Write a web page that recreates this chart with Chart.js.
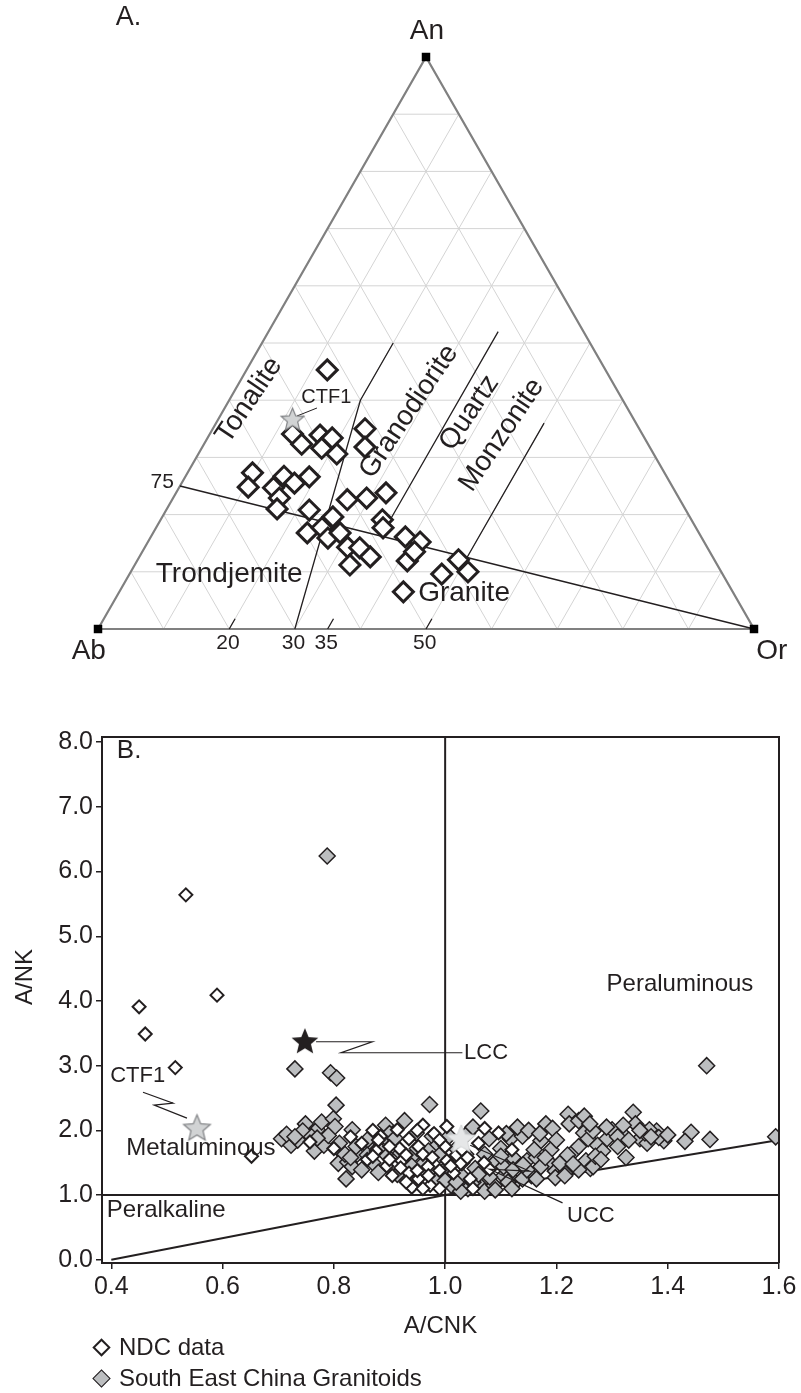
<!DOCTYPE html>
<html>
<head>
<meta charset="utf-8">
<script src="https://cdn.jsdelivr.net/npm/chart.js@4.4.1/dist/chart.umd.min.js"></script>
<style>
  html, body { margin: 0; padding: 0; background: #fff; }
  #wrap { position: relative; width: 801px; height: 1393px; overflow: hidden;
          font-family: 'Liberation Sans', Arial, sans-serif; color: #231f20; }
  #ternary { position: absolute; left: 0; top: 0; }
  #anplot { position: absolute; left: 0; top: 700px; }
  .leg { position: absolute; left: 95px; height: 28px; line-height: 28px; font-size: 24px;
         display: flex; align-items: center; white-space: nowrap; }
  .leg i { display: inline-block; width: 13px; height: 13px; box-sizing: border-box;
           transform: rotate(45deg); margin-right: 11px; }
</style>
</head>
<body>
<div id="wrap">
  <canvas id="ternary" width="801" height="700"></canvas>
  <canvas id="anplot" width="801" height="645"></canvas>
  <div class="leg" style="top:1333px"><i style="background:#fff;border:2.5px solid #231f20"></i>NDC data</div>
  <div class="leg" style="top:1364px"><i style="background:#bcbec0;border:1.5px solid #231f20"></i>South East China Granitoids</div>
</div>
<script>
'use strict';

// ---------- A. An-Ab-Or ternary, NDC samples (percent, Ab = 100 - An - Or) ----------
let ndcAn = [45.3, 34.1, 32.3, 33.9, 32.5, 31.6, 33.4, 30.6, 35.0, 31.8,
             27.3, 24.8, 24.7, 26.7, 25.5, 26.6, 22.9, 21.0, 20.8, 16.8,
             17.7, 22.6, 22.9, 23.8, 19.6, 15.9, 16.8, 14.3, 14.2, 12.6,
             11.2, 19.1, 17.7, 16.1, 15.2, 11.9, 13.5, 9.6, 12.1, 10.0, 6.5];
let ndcOr = [12.3, 12.6, 14.9, 16.9, 18.6, 18.3, 19.0, 21.1, 23.2, 24.8,
             9.9, 10.5, 14.4, 15.0, 17.2, 18.9, 16.2, 16.8, 21.8, 23.5,
             25.3, 26.7, 29.5, 32.0, 26.0, 27.1, 28.5, 30.9, 32.8, 35.2,
             32.8, 33.8, 34.6, 38.8, 41.5, 41.2, 41.5, 47.6, 48.9, 51.4, 43.3];
let ctf1An = [36.7];
let ctf1Or = [11.3];
let baseTicks = [20, 30, 35, 50];

// field boundaries, [An, Or] pairs
let line75 = [[25, 0], [0, 100]];
let lineTonGrd = [[0, 30], [40, 20], [50, 20]];
let lineGrdQm = [[16.25, 35], [52, 35]];
let lineQmMz = [[12.5, 50], [36, 50]];

// ---------- B. A/CNK vs A/NK ----------
let ndcAcnk = [0.534, 0.590, 0.450, 0.461, 0.515, 0.652, 0.914, 0.884, 0.876, 0.918,
               0.935, 0.952, 0.922, 0.960, 0.935, 0.952, 0.969, 0.977, 0.973, 0.990,
               1.003, 1.003, 1.015, 1.028, 1.045, 1.071, 1.096, 0.757, 0.860, 0.895,
               0.905, 0.940, 0.980, 1.020, 1.060, 1.080, 0.850, 0.870, 0.960, 1.120,
               1.000, 0.930, 0.990, 1.050, 0.800, 0.830, 0.870, 0.900, 0.920, 0.950,
               0.970, 0.900, 0.950, 0.990, 1.010, 1.030, 0.880, 0.930, 0.960, 1.040,
               1.070];
let ndcAnk = [5.64, 4.09, 3.91, 3.49, 2.97, 1.60, 2.01, 1.91, 1.68, 1.72,
              1.87, 1.75, 1.53, 1.63, 1.34, 1.25, 1.44, 1.58, 1.15, 1.10,
              2.06, 1.53, 1.34, 1.49, 1.25, 2.03, 1.96, 1.82, 1.55, 1.45,
              1.30, 1.12, 1.95, 1.62, 1.80, 1.40, 1.80, 2.00, 2.08, 1.70,
              1.75, 1.62, 1.38, 1.10, 1.72, 1.90, 1.60, 1.55, 1.42, 1.38,
              1.30, 1.75, 2.00, 1.85, 1.45, 1.70, 1.85, 1.20, 1.10, 1.58,
              1.50];

let secgAcnk = [0.788, 0.730, 0.794, 0.805, 1.470, 0.804, 0.972, 1.064, 1.221, 1.338,
                1.594, 1.476, 1.442, 1.431, 1.325, 0.822, 0.833,
                0.706, 0.723, 0.715, 0.749, 0.744, 0.770, 0.765, 0.778, 0.782, 0.799,
                0.802, 0.812, 0.808, 0.825, 0.833, 0.850, 0.859, 0.820, 0.842, 0.735,
                0.790, 0.760,
                0.893, 0.927, 0.901, 0.893, 0.939, 0.914, 0.948, 0.977, 0.986, 0.986,
                1.007, 1.011, 1.020, 1.037, 1.041, 1.054, 1.062, 1.079, 1.071, 1.088,
                1.100, 1.105, 1.117, 1.122, 1.126, 1.139, 1.147, 1.155, 1.164, 1.172,
                1.181, 1.193, 1.189, 1.198, 1.215, 1.223, 1.240, 1.232, 1.249, 1.257,
                1.253, 1.261, 1.266, 1.274, 1.283, 1.291, 1.300, 1.317, 1.342, 1.350,
                1.363, 1.380, 1.393, 1.359, 1.367, 1.384,
                1.071, 1.088, 1.113, 1.139, 1.164, 1.198, 1.215, 1.240, 1.266, 1.028,
                1.105, 1.122, 1.147, 1.172, 1.206, 1.050, 1.080, 1.120, 1.030, 1.000,
                0.960, 0.950, 0.900, 1.040, 1.130, 1.250, 1.310, 1.190, 1.270, 1.110,
                0.870, 0.880, 0.860, 0.840,
                0.860, 0.880, 0.910, 0.940, 0.970, 1.000, 1.020, 1.060, 1.090, 1.100,
                1.140, 1.160, 1.180, 1.200, 1.220, 1.230, 1.240, 1.280, 1.290, 1.310,
                1.330, 1.350, 1.370, 1.400, 1.150, 1.170, 1.050, 1.030, 0.990, 0.920,
                0.830, 0.810, 0.770, 0.730, 1.260, 1.320];
let secgAnk = [6.24, 2.95, 2.89, 2.81, 3.00, 2.39, 2.40, 2.30, 2.25, 2.28,
               1.90, 1.86, 1.97, 1.83, 1.58, 1.25, 2.01,
               1.87, 1.77, 1.94, 2.10, 1.99, 2.01, 1.68, 2.13, 1.77, 2.18,
               2.06, 1.68, 1.49, 1.51, 1.44, 1.39, 1.77, 1.63, 1.63, 1.85,
               1.92, 1.90,
               2.08, 2.15, 1.82, 1.63, 1.58, 1.32, 1.96, 1.91, 1.77, 1.25,
               1.91, 1.15, 1.72, 1.63, 1.10, 1.41, 1.15, 1.87, 1.63, 1.49,
               1.72, 1.30, 1.87, 1.58, 1.20, 1.91, 1.53, 1.30, 1.58, 1.84,
               2.10, 2.03, 1.49, 1.37, 1.34, 2.10, 2.15, 1.68, 1.96, 1.87,
               1.53, 1.41, 1.99, 1.77, 1.68, 1.87, 2.01, 1.96, 2.10, 1.87,
               1.80, 1.99, 1.84, 1.96, 2.01, 1.89,
               1.06, 1.15, 1.20, 1.25, 1.25, 1.27, 1.30, 1.39, 1.44, 1.06,
               1.44, 1.39, 1.39, 1.44, 1.49, 1.20, 1.28, 1.10, 1.30, 1.40,
               1.48, 1.72, 1.95, 1.95, 2.05, 2.22, 1.90, 1.70, 1.60, 1.95,
               1.50, 1.35, 1.85, 1.75,
               1.62, 1.72, 1.88, 1.45, 1.68, 1.22, 1.20, 1.32, 1.08, 1.60,
               1.47, 1.70, 1.58, 1.85, 1.62, 1.48, 1.75, 1.55, 2.05, 1.75,
               1.85, 2.00, 1.90, 1.93, 2.00, 1.95, 2.05, 1.50, 1.62, 1.65,
               1.58, 1.80, 1.88, 1.90, 2.10, 2.08];

let lccPt = [0.748, 3.38];   // lower continental crust
let uccPt = [1.029, 1.87];   // upper continental crust
let ctf1Pt = [0.554, 2.04];

let xMin = 0.3833, xMax = 1.6, yMin = -0.05, yMax = 8.08;
let boundVert = [[1.0, yMin], [1.0, yMax]];
let boundHorz = [[xMin, 1.0], [xMax, 1.0]];
let boundDiag = [[0.4, 0], [1.0, 1.0], [1.6, 1.85]];

let lccLeader = [[0.768, 3.37], [0.869, 3.37], [0.813, 3.20], [1.031, 3.20]];
let ctf1Leader = [[0.457, 2.59], [0.511, 2.42], [0.477, 2.39], [0.536, 2.19]];
let uccLeader = [[1.045, 1.77], [1.152, 1.37], [1.080, 1.40], [1.211, 0.88]];

const INK = '#231f20';
const FONT = "'Liberation Sans', Arial, sans-serif";
Chart.defaults.font.family = FONT;
Chart.defaults.color = INK;

const H = Math.sqrt(3) / 2;
function tern(an, or) {
  return { x: or + an / 2, y: an * H };
}
function pts(pairs) {
  return pairs.map(p => ({ x: p[0], y: p[1] }));
}

function starImage(r, fill, stroke, lw) {
  let c = document.createElement('canvas');
  let s = Math.ceil(2 * r + 2 * lw + 2);
  c.width = s; c.height = s;
  let g = c.getContext('2d');
  g.beginPath();
  for (let i = 0; i < 10; i++) {
    let rr = i % 2 ? r * 0.45 : r;
    let a = -Math.PI / 2 + i * Math.PI / 5;
    g.lineTo(s / 2 + rr * Math.cos(a), s / 2 + 1 + rr * Math.sin(a));
  }
  g.closePath();
  g.fillStyle = fill;
  g.fill();
  if (lw) { g.lineWidth = lw; g.strokeStyle = stroke; g.stroke(); }
  return c;
}

// text drawn at data coordinates of a chart
function notesPlugin(items) {
  return {
    id: 'notes',
    afterDatasetsDraw(chart) {
      let ctx = chart.ctx, xs = chart.scales.x, ys = chart.scales.y;
      items.forEach(n => {
        ctx.save();
        ctx.fillStyle = INK;
        ctx.font = n.size + 'px ' + FONT;
        ctx.textAlign = n.align || 'center';
        ctx.textBaseline = n.base || 'middle';
        ctx.translate(xs.getPixelForValue(n.x), ys.getPixelForValue(n.y));
        if (n.rot) ctx.rotate(n.rot * Math.PI / 180);
        ctx.fillText(n.text, 0, 0);
        ctx.restore();
      });
    }
  };
}

function lineSet(data, color, width, order) {
  return { data: data, showLine: true, borderColor: color, borderWidth: width,
           pointRadius: 0, spanGaps: false, clip: false, order: order };
}

// ---------- chart A ----------
function renderTernary() {
  let grid = [];
  for (let k = 10; k < 100; k += 10) {
    grid.push(tern(k, 0), tern(k, 100 - k), { x: null, y: null });
    grid.push(tern(0, k), tern(100 - k, k), { x: null, y: null });
    grid.push(tern(0, 100 - k), tern(100 - k, 0), { x: null, y: null });
  }
  let corners = [tern(0, 0), tern(100, 0), tern(0, 100)];
  let edges = [tern(0, 0), tern(100, 0), tern(0, 100), tern(0, 0)];
  let bounds = [];
  [line75, lineTonGrd, lineGrdQm, lineQmMz].forEach(l => {
    l.forEach(p => bounds.push(tern(p[0], p[1])));
    bounds.push({ x: null, y: null });
  });
  baseTicks.filter(t => t !== 30).forEach(t => {
    bounds.push(tern(0, t), tern(1.8, t), { x: null, y: null });
  });
  let leader = [{ x: 30.34, y: 32.25 }, { x: 33.38, y: 33.46 }];

  let labels = [
    { text: 'A.', x: 2.7, y: 94.6, size: 27, align: 'left', base: 'top' },
    { text: 'An', x: 50.15, y: 90.5, size: 28 },
    { text: 'Ab', x: -1.4, y: -3.3, size: 28 },
    { text: 'Or', x: 102.7, y: -3.3, size: 28 },
    { text: '75', x: 9.8, y: 22.3, size: 21 },
    { text: 'CTF1', x: 34.8, y: 35.0, size: 20 },
    { text: 'Trondjemite', x: 20.0, y: 8.3, size: 28 },
    { text: 'Granite', x: 55.8, y: 5.45, size: 28 },
    { text: 'Tonalite', x: 19.9, y: 27.9, size: 28, align: 'left', base: 'alphabetic', rot: -56 },
    { text: 'Granodiorite', x: 41.8, y: 22.6, size: 28, align: 'left', base: 'alphabetic', rot: -56 },
    { text: 'Quartz', x: 54.0, y: 26.8, size: 28, align: 'left', base: 'alphabetic', rot: -56 },
    { text: 'Monzonite', x: 57.0, y: 20.6, size: 28, align: 'left', base: 'alphabetic', rot: -56 }
  ];
  baseTicks.forEach(t => labels.push({ text: String(t), x: t - 0.2, y: -2.1, size: 21 }));

  new Chart(document.getElementById('ternary'), {
    type: 'scatter',
    data: {
      datasets: [
        { label: 'CTF1', data: ctf1An.map((a, i) => tern(a, ctf1Or[i])),
          pointStyle: starImage(12, '#d1d3d4', '#808285', 1.2), order: 1, clip: false },
        { label: 'NDC data', data: ndcAn.map((a, i) => tern(a, ndcOr[i])),
          pointStyle: 'rectRot', pointRadius: 10, backgroundColor: '#fff',
          borderColor: INK, borderWidth: 3, order: 3, clip: false },
        { data: corners, pointStyle: 'rect', pointRadius: 6, backgroundColor: '#000',
          borderColor: '#000', borderWidth: 0, order: 4, clip: false },
        lineSet(leader, INK, 1, 5),
        lineSet(bounds, INK, 1.3, 6),
        lineSet(edges, '#808080', 2.2, 7),
        lineSet(grid, '#d4d4d4', 1, 8)
      ]
    },
    options: {
      responsive: false,
      animation: false,
      layout: { padding: { left: 98, right: 47, top: 57, bottom: 71 } },
      scales: {
        x: { type: 'linear', display: false, min: 0, max: 100 },
        y: { type: 'linear', display: false, min: 0, max: 100 * H }
      },
      plugins: { legend: { display: false }, tooltip: { enabled: false } }
    },
    plugins: [notesPlugin(labels)]
  });
}

// ---------- chart B ----------
function renderAN() {
  let frame = {
    id: 'frame',
    afterDraw(chart) {
      let a = chart.chartArea, ctx = chart.ctx;
      ctx.save();
      ctx.strokeStyle = INK;
      ctx.lineWidth = 2;
      ctx.beginPath();
      ctx.moveTo(a.left, a.top);
      ctx.lineTo(a.right, a.top);
      ctx.lineTo(a.right, a.bottom);
      ctx.stroke();
      ctx.restore();
    }
  };
  let labels = [
    { text: 'B.', x: 0.41, y: 8.06, size: 26, align: 'left', base: 'top' },
    { text: 'A/NK', x: 0.245, y: 4.37, size: 24, rot: -90 },
    { text: 'Peraluminous', x: 1.422, y: 4.25, size: 24 },
    { text: 'LCC', x: 1.034, y: 3.20, size: 22, align: 'left' },
    { text: 'CTF1', x: 0.398, y: 2.84, size: 22, align: 'left' },
    { text: 'Metaluminous', x: 0.561, y: 1.72, size: 24 },
    { text: 'Peralkaline', x: 0.392, y: 0.77, size: 24, align: 'left' },
    { text: 'UCC', x: 1.219, y: 0.68, size: 22, align: 'left' }
  ];

  new Chart(document.getElementById('anplot'), {
    type: 'scatter',
    data: {
      datasets: [
        { label: 'LCC', data: [{ x: lccPt[0], y: lccPt[1] }],
          pointStyle: starImage(14, '#231f20', '#231f20', 0), order: 1 },
        { label: 'UCC', data: [{ x: uccPt[0], y: uccPt[1] }],
          pointStyle: starImage(15, '#e6e7e8', '#d1d3d4', 1), order: 1 },
        { label: 'CTF1', data: [{ x: ctf1Pt[0], y: ctf1Pt[1] }],
          pointStyle: starImage(14, '#d1d3d4', '#808285', 1.2), order: 1 },
        { label: 'NDC data', data: ndcAcnk.map((v, i) => ({ x: v, y: ndcAnk[i] })),
          pointStyle: 'rectRot', pointRadius: 6.5, backgroundColor: '#fff',
          borderColor: INK, borderWidth: 2, order: 3 },
        { label: 'South East China Granitoids', data: secgAcnk.map((v, i) => ({ x: v, y: secgAnk[i] })),
          pointStyle: 'rectRot', pointRadius: 8, backgroundColor: '#bcbec0',
          borderColor: INK, borderWidth: 1.5, order: 4 },
        lineSet(pts(lccLeader), INK, 1.2, 5),
        lineSet(pts(ctf1Leader), INK, 1.2, 5),
        lineSet(pts(uccLeader), INK, 1.2, 2),
        lineSet(pts(boundVert), INK, 2, 6),
        lineSet(pts(boundHorz), INK, 2, 6),
        lineSet(pts(boundDiag), INK, 2, 6)
      ]
    },
    options: {
      responsive: false,
      animation: false,
      layout: { padding: { left: 0, right: 22, top: 37, bottom: 0 } },
      scales: {
        x: {
          type: 'linear', min: xMin, max: xMax,
          afterFit: s => { s.height = 82; },
          ticks: { stepSize: 0.2, includeBounds: false, autoSkip: false, maxRotation: 0,
                   padding: 3, font: { size: 25 }, callback: v => v.toFixed(1) },
          grid: { drawOnChartArea: false, tickLength: 6, color: INK, lineWidth: 1.5 },
          border: { display: true, color: INK, width: 2 },
          title: { display: true, text: 'A/CNK', font: { size: 24 }, padding: { top: 0, bottom: 4 } }
        },
        y: {
          type: 'linear', min: yMin, max: yMax,
          afterFit: s => { s.width = 102; },
          ticks: { stepSize: 1, includeBounds: false, autoSkip: false,
                   padding: 3, font: { size: 25 }, callback: v => v.toFixed(1) },
          grid: { drawOnChartArea: false, tickLength: 6, color: INK, lineWidth: 1.5 },
          border: { display: true, color: INK, width: 2 }
        }
      },
      plugins: { legend: { display: false }, tooltip: { enabled: false } }
    },
    plugins: [frame, notesPlugin(labels)]
  });
}

renderTernary();
renderAN();
</script>
</body>
</html>
